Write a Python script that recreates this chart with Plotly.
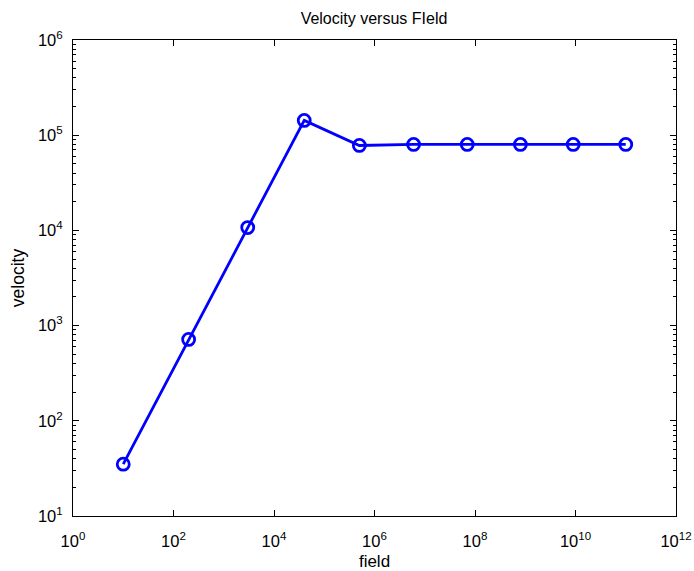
import plotly.graph_objects as go

field = [1e1, 2e2, 3e3, 4e4, 5e5, 6e6, 7e7, 8e8, 9e9, 1e11]
velocity = [35, 715, 1.07e4, 1.43e5, 7.8e4, 8.0e4, 8.0e4, 8.0e4, 8.0e4, 8.0e4]

x_exps = [0, 2, 4, 6, 8, 10, 12]
y_exps = [1, 2, 3, 4, 5, 6]

font = "Liberation Sans, Arial, Helvetica, sans-serif"

fig = go.Figure()
fig.add_trace(go.Scatter(
    x=field, y=velocity, mode="lines+markers",
    line=dict(color="#0000ff", width=2.8),
    marker=dict(symbol="circle-open", size=12, color="#0000ff",
                line=dict(width=2.8, color="#0000ff")),
    showlegend=False,
))

y_minor = [m * 10 ** e for e in y_exps[:-1] for m in range(2, 10)]

fig.update_layout(
    width=694, height=571,
    margin=dict(l=73, r=18, t=40, b=55, autoexpand=False),
    paper_bgcolor="white", plot_bgcolor="white",
    font=dict(family=font, color="black", size=16),
    title=dict(text="Velocity versus FIeld", x=374 / 694, xanchor="center",
               y=1 - 18 / 571, yanchor="middle", yref="container",
               font=dict(size=16)),
)
fig.update_xaxes(
    type="log", range=[0, 12], automargin=False,
    tickvals=[10 ** e for e in x_exps],
    ticktext=[f"10<sup>{e}</sup>" for e in x_exps],
    ticks="inside", ticklen=6, tickcolor="black", ticklabelstandoff=10,
    showline=True, linecolor="black", linewidth=1, mirror="ticks",
    showgrid=False, zeroline=False,
    title=dict(text="field", font=dict(size=17), standoff=7),
    tickfont=dict(size=16.5),
)
fig.update_yaxes(
    type="log", range=[1, 6], automargin=False,
    tickvals=[10 ** e for e in y_exps],
    ticktext=[f"10<sup>{e}</sup>" for e in y_exps],
    ticks="inside", ticklen=6, tickcolor="black", ticklabelstandoff=6,
    minor=dict(tickvals=y_minor, ticks="inside", ticklen=3, tickcolor="black", showgrid=False),
    showline=True, linecolor="black", linewidth=1, mirror="ticks",
    showgrid=False, zeroline=False,
    title=dict(text="velocity", font=dict(size=17.5), standoff=8),
    tickfont=dict(size=16.5),
)

fig.write_html("out.html")
